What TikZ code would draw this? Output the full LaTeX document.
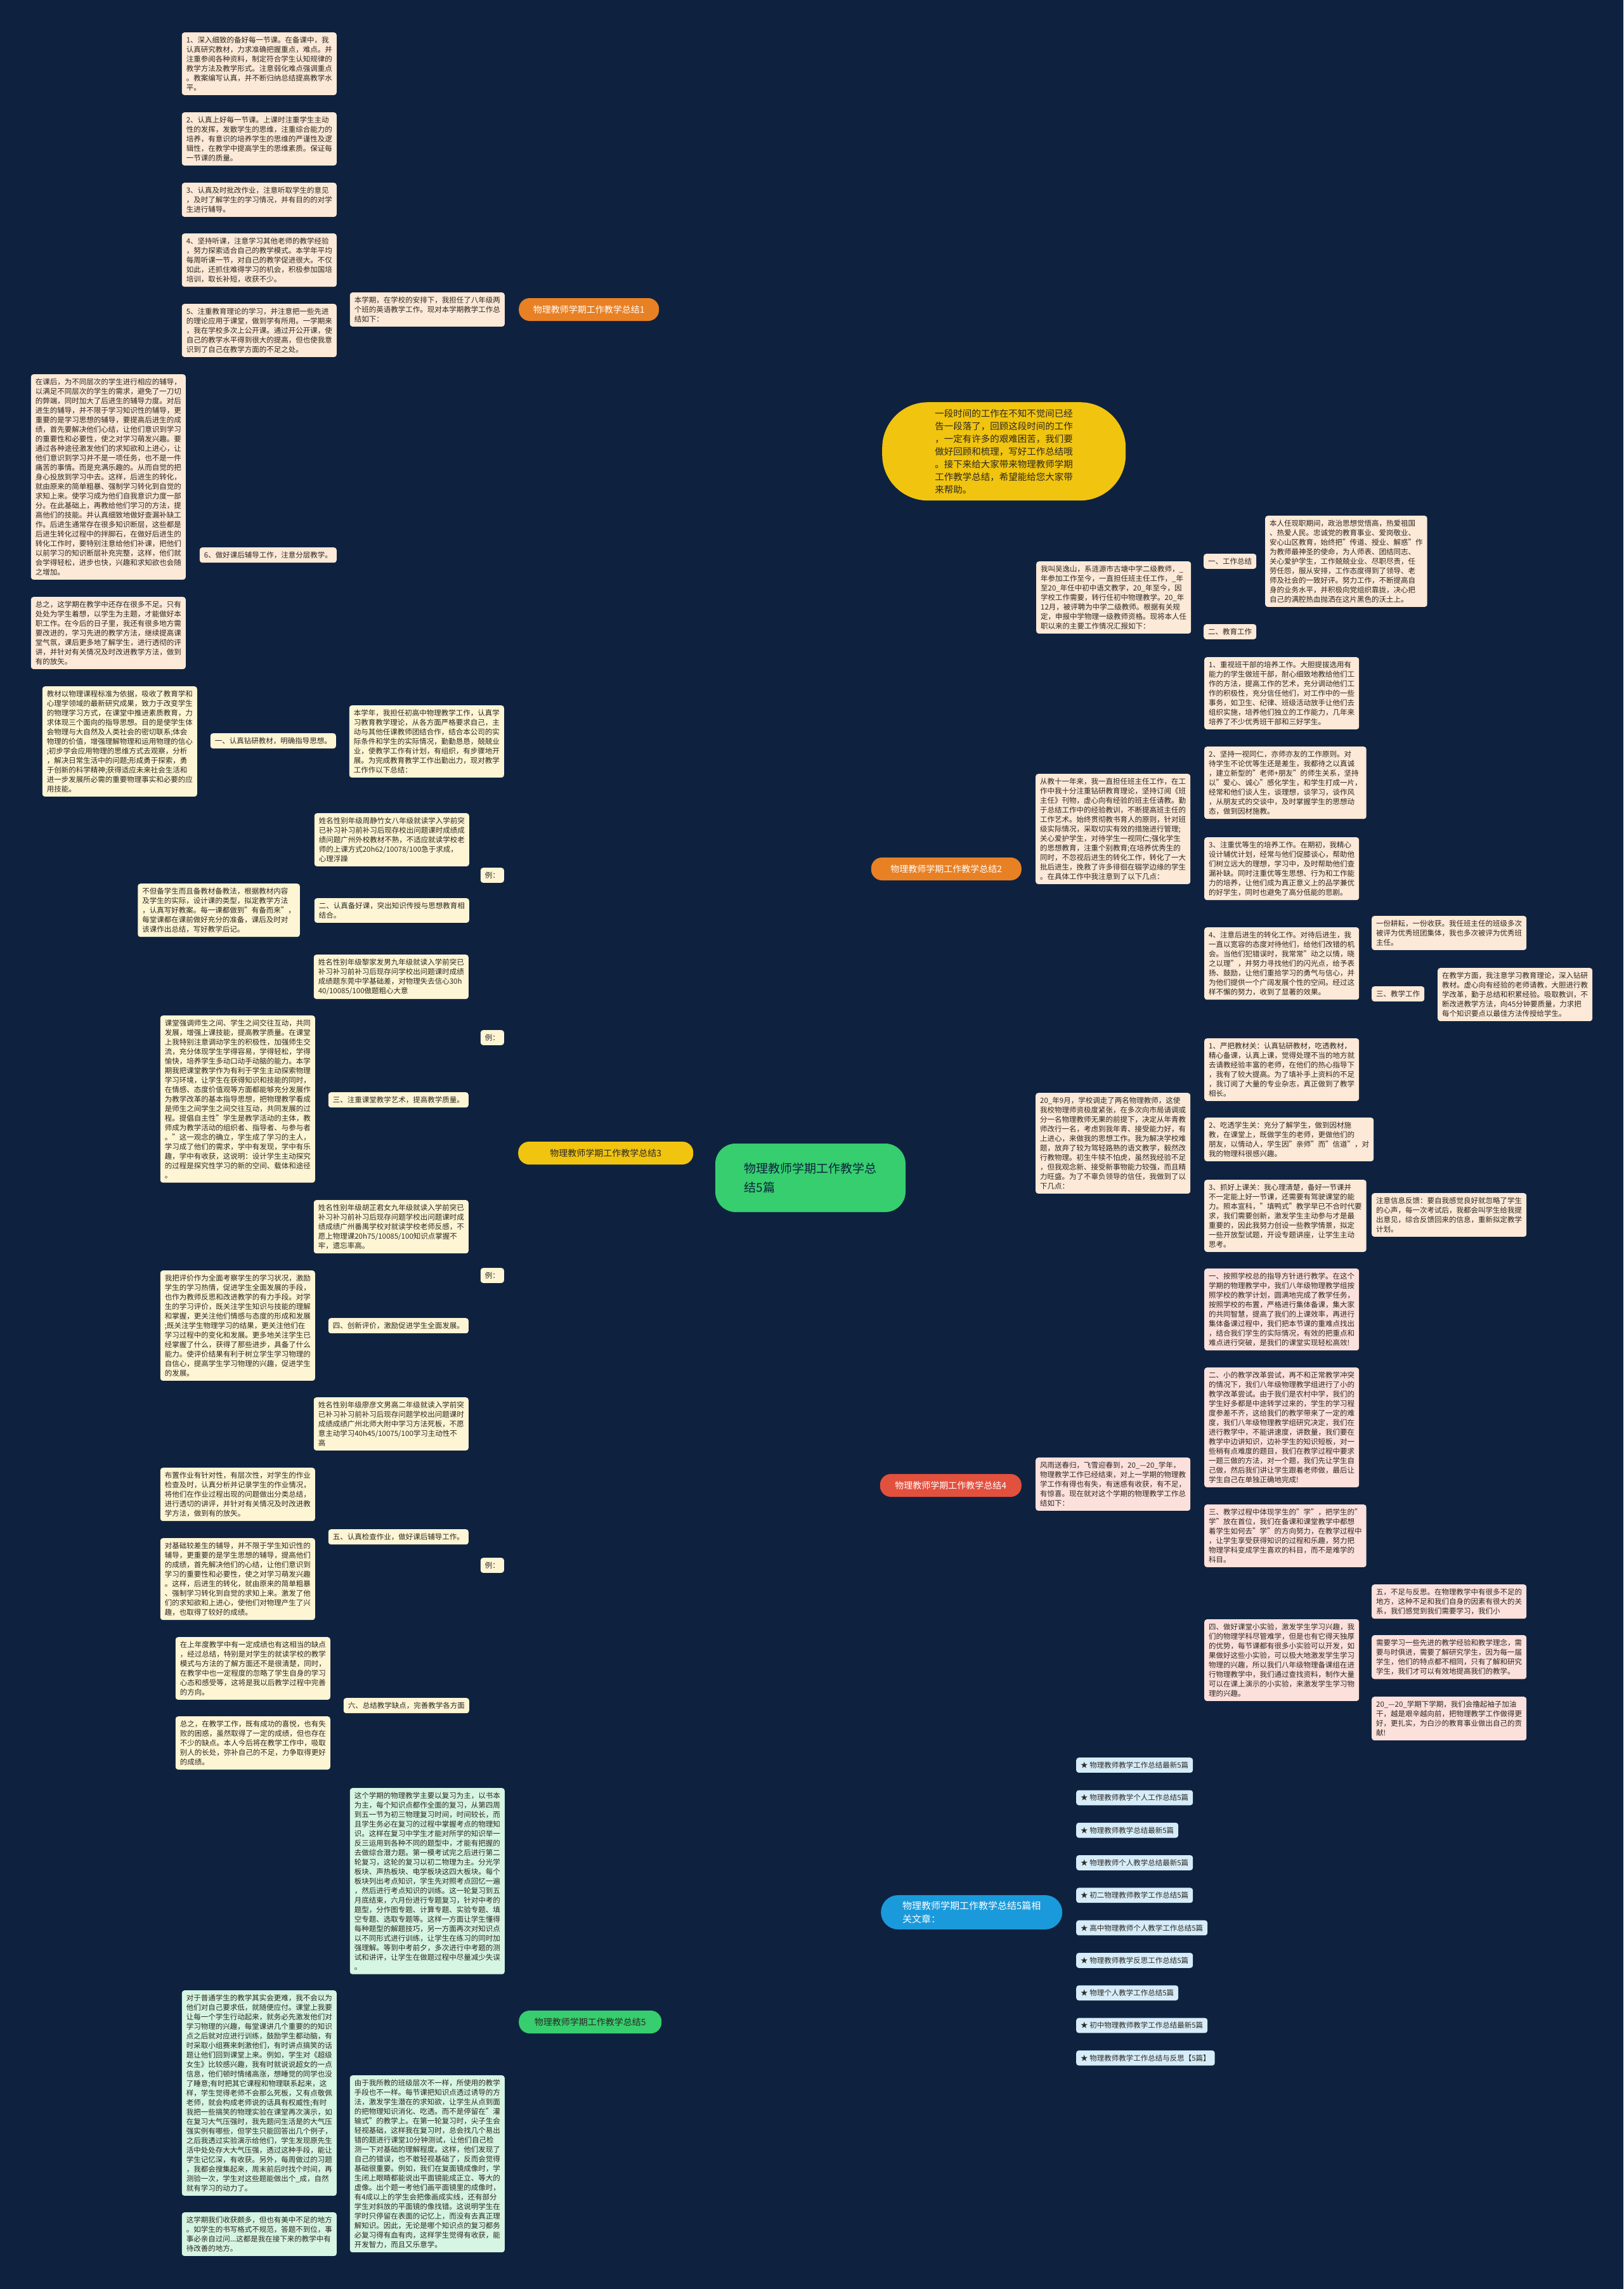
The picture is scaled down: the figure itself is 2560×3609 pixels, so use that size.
\documentclass[tikz,border=0pt]{standalone}
\usepackage{fontspec}
\setmainfont{Noto Sans CJK SC}
\usetikzlibrary{backgrounds}
\definecolor{navybg}{RGB}{14,34,64}
\definecolor{inkdark}{RGB}{45,40,35}
\definecolor{orangetopic}{RGB}{232,128,36}
\definecolor{yellowtopic}{RGB}{241,196,15}
\definecolor{redtopic}{RGB}{226,80,62}
\definecolor{greentopic}{RGB}{54,206,110}
\definecolor{bluetopic}{RGB}{26,154,219}
\definecolor{peachfill}{RGB}{252,233,215}
\definecolor{creamfill}{RGB}{253,245,212}
\definecolor{blushfill}{RGB}{252,224,220}
\definecolor{mintfill}{RGB}{214,245,226}
\definecolor{skyfill}{RGB}{214,237,249}
\definecolor{orangewire}{RGB}{222,136,58}
\definecolor{yellowwire}{RGB}{232,200,42}
\definecolor{redwire}{RGB}{214,86,72}
\definecolor{greenwire}{RGB}{70,204,128}
\definecolor{bluewire}{RGB}{36,150,214}
\newcommand{\cardfont}{\fontsize{11.5}{15}\selectfont}
\newcommand{\topicfont}{\fontsize{14}{18}\selectfont}
\newcommand{\hubfont}{\fontsize{19}{30}\selectfont}
\newcommand{\leadfont}{\fontsize{14.5}{20}\selectfont}
\newcommand{\morefont}{\fontsize{15}{21}\selectfont}

\begin{document}
\begin{tikzpicture}[x=1pt, y=-1pt,
    show background rectangle, tight background,
    background rectangle/.style={fill=navybg, draw=none},
    card/.style={rounded corners=4pt, align=left, inner xsep=7pt,
                 inner ysep=6.5pt, font=\cardfont, text=inkdark},
    card1/.style={card, fill=peachfill},
    card3/.style={card, fill=creamfill},
    card4/.style={card, fill=blushfill},
    card5/.style={card, fill=mintfill},
    cardlink/.style={card, fill=skyfill},
    topic/.style={rounded corners=17pt, minimum height=36pt, inner xsep=14pt,
                  font=\topicfont, align=center},
    hub/.style={fill=greentopic, rounded corners=32pt, minimum width=300pt,
                minimum height=108pt, align=left, font=\hubfont, text=navybg},
    leadnote/.style={fill=yellowtopic, rounded corners=72pt, minimum width=384pt,
                     minimum height=155pt, align=left, font=\leadfont, text=inkdark},
    morenote/.style={fill=bluetopic, rounded corners=27pt, minimum width=286pt,
                     minimum height=54pt, align=left, font=\morefont, text=white},
    wire/.style={line width=1.6pt, rounded corners=6pt},
    wire1/.style={wire, draw=orangewire},
    wire3/.style={wire, draw=yellowwire},
    wire4/.style={wire, draw=redwire},
    wire5/.style={wire, draw=greenwire},
    wire6/.style={wire, draw=bluewire},
    mainwire/.style={line width=2.6pt}]
  \useasboundingbox (0,0) rectangle (2560,3609);

  % centre and intro
  \node[hub] (root) at (1278,1857) {物理教师学期工作教学总\\结5篇};
  \node[leadnote, anchor=north west] (lead) at (1391,634)
    {一段时间的工作在不知不觉间已经\\告一段落了，回顾这段时间的工作\\，一定有许多的艰难困苦，我们要\\做好回顾和梳理，写好工作总结哦\\。接下来给大家带来物理教师学期\\工作教学总结，希望能给您大家带\\来帮助。};

  % branch topics
  \node[topic, fill=orangetopic, text=white, minimum width=221pt, anchor=west] (sum1) at (818,488) {物理教师学期工作教学总结1};
  \node[topic, fill=orangetopic, text=white, minimum width=237pt, anchor=east] (sum2) at (1611,1370) {物理教师学期工作教学总结2};
  \node[topic, fill=yellowtopic, text=inkdark, minimum width=276pt, anchor=west] (sum3) at (817,1818) {物理教师学期工作教学总结3};
  \node[topic, fill=redtopic, text=white, minimum width=223pt, anchor=east] (sum4) at (1611,2342) {物理教师学期工作教学总结4};
  \node[topic, fill=greentopic, text=inkdark, minimum width=225pt, anchor=west] (sum5) at (818,3188) {物理教师学期工作教学总结5};
  \node[morenote, anchor=west] (more) at (1389,3015) {物理教师学期工作教学总结5篇相\\关文章：};

  % ---- summary 1
  \node[card1, anchor=north east] (s1in) at (796,461) {本学期，在学校的安排下，我担任了八年级两\\个班的英语教学工作。现对本学期教学工作总\\结如下：};
  \node[card1, anchor=north east] (s1a) at (531,51) {1、深入细致的备好每一节课。在备课中，我\\认真研究教材，力求准确把握重点，难点。并\\注重参阅各种资料，制定符合学生认知规律的\\教学方法及教学形式。注意弱化难点强调重点\\。教案编写认真，并不断归纳总结提高教学水\\平。};
  \node[card1, anchor=north east] (s1b) at (531,177) {2、认真上好每一节课。上课时注重学生主动\\性的发挥，发散学生的思维，注重综合能力的\\培养，有意识的培养学生的思维的严谨性及逻\\辑性，在教学中提高学生的思维素质。保证每\\一节课的质量。};
  \node[card1, anchor=north east] (s1c) at (531,288) {3、认真及时批改作业，注意听取学生的意见\\，及时了解学生的学习情况，并有目的的对学\\生进行辅导。};
  \node[card1, anchor=north east] (s1d) at (531,368) {4、坚持听课，注意学习其他老师的教学经验\\，努力探索适合自己的教学模式。本学年平均\\每周听课一节，对自己的教学促进很大。不仅\\如此，还抓住难得学习的机会，积极参加国培\\培训，取长补短，收获不少。};
  \node[card1, anchor=north east] (s1e) at (531,479) {5、注重教育理论的学习，并注意把一些先进\\的理论应用于课堂，做到学有所用。一学期来\\，我在学校多次上公开课。通过开公开课，使\\自己的教学水平得到很大的提高，但也使我意\\识到了自己在教学方面的不足之处。};
  \node[card1, anchor=north east] (s1f) at (531,863) {6、做好课后辅导工作，注意分层教学。};
  \node[card1, anchor=north east] (s1g) at (293,590) {在课后，为不同层次的学生进行相应的辅导，\\以满足不同层次的学生的需求，避免了一刀切\\的弊端，同时加大了后进生的辅导力度。对后\\进生的辅导，并不限于学习知识性的辅导，更\\重要的是学习思想的辅导，要提高后进生的成\\绩，首先要解决他们心结，让他们意识到学习\\的重要性和必要性，使之对学习萌发兴趣。要\\通过各种途径激发他们的求知欲和上进心，让\\他们意识到学习并不是一项任务，也不是一件\\痛苦的事情。而是充满乐趣的。从而自觉的把\\身心投放到学习中去。这样，后进生的转化，\\就由原来的简单粗暴、强制学习转化到自觉的\\求知上来。使学习成为他们自我意识力度一部\\分。在此基础上，再教给他们学习的方法，提\\高他们的技能。并认真细致地做好查漏补缺工\\作。后进生通常存在很多知识断层，这些都是\\后进生转化过程中的拌脚石，在做好后进生的\\转化工作时，要特别注意给他们补课，把他们\\以前学习的知识断层补充完整，这样，他们就\\会学得轻松，进步也快，兴趣和求知欲也会随\\之增加。};
  \node[card1, anchor=north east] (s1h) at (293,941) {总之，这学期在教学中还存在很多不足。只有\\处处为学生着想，以学生为主题，才能做好本\\职工作。在今后的日子里，我还有很多地方需\\要改进的，学习先进的教学方法，继续提高课\\堂气氛，课后更多地了解学生，进行透彻的评\\讲，并针对有关情况及时改进教学方法，做到\\有的放矢。};

  % ---- summary 3
  \node[card3, anchor=north east] (s3in) at (795,1112) {本学年，我担任初高中物理教学工作，认真学\\习教育教学理论，从各方面严格要求自己，主\\动与其他任课教师团结合作，结合本公司的实\\际条件和学生的实际情况，勤勤恳恳，兢兢业\\业，使教学工作有计划，有组织，有步骤地开\\展。为完成教育教学工作出勤出力，现对教学\\工作作以下总结：};
  \node[card3, anchor=north east] (s3one) at (530,1156) {一、认真钻研教材，明确指导思想。};
  \node[card3, anchor=north east] (s3book) at (311,1082) {教材以物理课程标准为依据，吸收了教育学和\\心理学领域的最新研究成果，致力于改变学生\\的物理学习方式，在课堂中推进素质教育，力\\求体现三个面向的指导思想。目的是使学生体\\会物理与大自然及人类社会的密切联系;体会\\物理的价值，增强理解物理和运用物理的信心\\;初步学会应用物理的思维方式去观察，分析\\，解决日常生活中的问题;形成勇于探索，勇\\于创新的科学精神;获得适应未来社会生活和\\进一步发展所必需的重要物理事实和必要的应\\用技能。};
  \node[card3, anchor=north east] (ex1) at (795,1368) {例：};
  \node[card3, anchor=north east] (s3zhou) at (740,1282) {姓名性别年级周静竹女八年级就读学入学前突\\已补习补习前补习后现存校出问题课时成绩成\\绩问题广州外校教材不熟，不适应就读学校老\\师的上课方式20h62/10078/100急于求成，\\心理浮躁};
  \node[card3, anchor=north east] (s3two) at (740,1416) {二、认真备好课，突出知识传授与思想教育相\\结合。};
  \node[card3, anchor=north east] (s3twoc) at (473,1393) {不但备学生而且备教材备教法，根据教材内容\\及学生的实际，设计课的类型，拟定教学方法\\，认真写好教案。每一课都做到"有备而来"，\\每堂课都在课前做好充分的准备，课后及时对\\该课作出总结，写好教学后记。};
  \node[card3, anchor=north east] (ex2) at (795,1624) {例：};
  \node[card3, anchor=north east] (s3li) at (739,1505) {姓名性别年级黎家发男九年级就读入学前突已\\补习补习前补习后现存问学校出问题课时成绩\\成绩题东莞中学基础差，对物理失去信心30h\\40/10085/100做题粗心大意};
  \node[card3, anchor=north east] (s3three) at (739,1722) {三、注重课堂教学艺术，提高教学质量。};
  \node[card3, anchor=north east] (s3threec) at (497,1601) {课堂强调师生之间、学生之间交往互动，共同\\发展，增强上课技能，提高教学质量。在课堂\\上我特别注意调动学生的积极性，加强师生交\\流，充分体现学生学得容易，学得轻松，学得\\愉快，培养学生多动口动手动脑的能力。本学\\期我把课堂教学作为有利于学生主动探索物理\\学习环境，让学生在获得知识和技能的同时，\\在情感、态度价值观等方面都能够充分发展作\\为教学改革的基本指导思想，把物理教学看成\\是师生之间学生之间交往互动，共同发展的过\\程。提倡自主性"学生是教学活动的主体，教\\师成为教学活动的组织者、指导者、与参与者\\。"这一观念的确立，学生成了学习的主人，\\学习成了他们的需求，学中有发现，学中有乐\\趣，学中有收获，这说明：设计学生主动探究\\的过程是探究性学习的新的空间、载体和途径\\。};
  \node[card3, anchor=north east] (ex3) at (795,1999) {例：};
  \node[card3, anchor=north east] (s3hu) at (739,1892) {姓名性别年级胡芷君女九年级就读入学前突已\\补习补习前补习后现存问题学校出问题课时成\\绩成绩广州番禺学校对就读学校老师反感，不\\愿上物理课20h75/10085/100知识点掌握不\\牢，遗忘率高。};
  \node[card3, anchor=north east] (s3four) at (739,2078) {四、创新评价，激励促进学生全面发展。};
  \node[card3, anchor=north east] (s3fourc) at (497,2003) {我把评价作为全面考察学生的学习状况，激励\\学生的学习热情，促进学生全面发展的手段，\\也作为教师反思和改进教学的有力手段。对学\\生的学习评价，既关注学生知识与技能的理解\\和掌握，更关注他们情感与态度的形成和发展\\;既关注学生物理学习的结果，更关注他们在\\学习过程中的变化和发展。更多地关注学生已\\经掌握了什么，获得了那些进步，具备了什么\\能力。使评价结果有利于树立学生学习物理的\\自信心，提高学生学习物理的兴趣，促进学生\\的发展。};
  \node[card3, anchor=north east] (ex4) at (795,2456) {例：};
  \node[card3, anchor=north east] (s3liao) at (739,2203) {姓名性别年级廖彦文男高二年级就读入学前突\\已补习补习前补习后现存问题学校出问题课时\\成绩成绩广州北师大附中学习方法死板，不愿\\意主动学习40h45/10075/100学习主动性不\\高};
  \node[card3, anchor=north east] (s3five) at (739,2411) {五、认真检查作业，做好课后辅导工作。};
  \node[card3, anchor=north east] (s3fivea) at (497,2314) {布置作业有针对性，有层次性，对学生的作业\\检查及时，认真分析并记录学生的作业情况，\\将他们在作业过程出现的问题做出分类总结，\\进行透切的讲评，并针对有关情况及时改进教\\学方法，做到有的放矢。};
  \node[card3, anchor=north east] (s3fiveb) at (497,2425) {对基础较差生的辅导，并不限于学生知识性的\\辅导，更重要的是学生思想的辅导，提高他们\\的成绩，首先解决他们的心结，让他们意识到\\学习的重要性和必要性，使之对学习萌发兴趣\\。这样，后进生的转化，就由原来的简单粗暴\\、强制学习转化到自觉的求知上来。激发了他\\们的求知欲和上进心，使他们对物理产生了兴\\趣，也取得了较好的成绩。};
  \node[card3, anchor=north east] (s3six) at (740,2677) {六、总结教学缺点，完善教学各方面};
  \node[card3, anchor=north east] (s3sixa) at (521,2581) {在上年度教学中有一定成绩也有这相当的缺点\\，经过总结，特别是对学生的就读学校的教学\\模式与方法的了解方面还不是很清楚，同时，\\在教学中也一定程度的忽略了学生自身的学习\\心态和感受等，这将是我以后教学过程中完善\\的方向。};
  \node[card3, anchor=north east] (s3sixb) at (521,2706) {总之，在教学工作，既有成功的喜悦，也有失\\败的困惑，虽然取得了一定的成绩，但也存在\\不少的缺点。本人今后将在教学工作中，吸取\\别人的长处，弥补自己的不足，力争取得更好\\的成绩。};

  % ---- summary 5
  \node[card5, anchor=north east] (s5a) at (796,2819) {这个学期的物理教学主要以复习为主，以书本\\为主，每个知识点都作全面的复习，从第四周\\到五一节为初三物理复习时间，时间较长，而\\且学生务必在复习的过程中掌握考点的物理知\\识。这样在复习中学生才能对所学的知识举一\\反三运用到各种不同的题型中，才能有把握的\\去做综合潜力题。第一模考试完之后进行第二\\轮复习，这轮的复习以初二物理为主。分光学\\板块、声热板块、电学板块这四大板块。每个\\板块列出考点知识，学生先对照考点回忆一遍\\，然后进行考点知识的训练。这一轮复习到五\\月底结束，六月份进行专题复习，针对中考的\\题型，分作图专题、计算专题、实验专题、填\\空专题、选取专题等。这样一方面让学生懂得\\每种题型的解题技巧，另一方面再次对知识点\\以不同形式进行训练，让学生在练习的同时加\\强理解。等到中考前夕，多次进行中考题的测\\试和讲评，让学生在做题过程中尽量减少失误\\。};
  \node[card5, anchor=north east] (s5b) at (796,3272) {由于我所教的班级层次不一样，所使用的教学\\手段也不一样。每节课把知识点透过诱导的方\\法，激发学生潜在的求知欲，让学生从点到面\\的把物理知识消化、吃透。而不是停留在"灌\\输式"的教学上。在第一轮复习时，尖子生会\\轻视基础，这样我在复习时，总会找几个易出\\错的题进行课堂10分钟测试，让他们自己检\\测一下对基础的理解程度。这样，他们发现了\\自己的错误，也不敢轻视基础了，反而会觉得\\基础很重要。例如，我们在复面镜成像时，学\\生闭上眼睛都能说出平面镜能成正立、等大的\\虚像。出个题一考他们画平面镜里的成像时，\\有4成以上的学生会把像画成实线，还有部分\\学生对斜放的平面镜的像找错。这说明学生在\\学时只停留在表面的记忆上，而没有去真正理\\解知识。因此，无论是哪个知识点的复习都务\\必复习得有血有肉，这样学生觉得有收获，能\\开发智力，而且又乐意学。};
  \node[card5, anchor=north east] (s5ba) at (531,3138) {对于普通学生的教学其实会更难，我不会以为\\他们对自己要求低，就随便应付。课堂上我要\\让每一个学生行动起来，就务必先激发他们对\\学习物理的兴趣，每堂课讲几个重要的的知识\\点之后就对应进行训练，鼓励学生都动脑，有\\时采取小组赛来刺激他们，有时讲点搞笑的话\\题让他们回到课堂上来。例如，学生对《超级\\女生》比较感兴趣，我有时就说说超女的一点\\信息，他们顿时情绪高涨，想睡觉的同学也没\\了睡意;有时把其它课程和物理联系起来，这\\样，学生觉得老师不会那么死板，又有点敬佩\\老师，就会构成老师说的话具有权威性;有时\\我把一些搞笑的物理实验在课堂再次演示，如\\在复习大气压强时，我先题问生活是的大气压\\强实例有哪些，但学生只能回答出几个例子，\\之后我透过实验演示给他们，学生发现原先生\\活中处处存大大气压强，透过这种手段，能让\\学生记忆深，有收获。另外，每周做过的习题\\，我都会搜集起来，周末前后时找个时间，再\\测验一次，学生对这些题能做出个\_成，自然\\就有学习的动力了。};
  \node[card5, anchor=north east] (s5bb) at (531,3488) {这学期我们收获颇多，但也有美中不足的地方\\。如学生的书写格式不规范，答题不到位，事\\事必亲自过问...这都是我在接下来的教学中有\\待改善的地方。};

  % ---- summary 2
  \node[card1, anchor=north west] (s2in) at (1634,885) {我叫吴逸山，系涟源市古塘中学二级教师，\_\\年参加工作至今，一直担任班主任工作，\_年\\至20\_年任中初中语文教学，20\_年至今，因\\学校工作需要，转行任初中物理教学。20\_年\\12月，被评聘为中学二级教师。根据有关规\\定，申报中学物理一级教师资格。现将本人任\\职以来的主要工作情况汇报如下：};
  \node[card1, anchor=north west] (s2w1) at (1898,873) {一、工作总结};
  \node[card1, anchor=north west] (s2w1c) at (1995,813) {本人任现职期间，政治思想觉悟高，热爱祖国\\、热爱人民。忠诚党的教育事业、爱岗敬业、\\安心山区教育，始终把"传道、授业、解惑"作\\为教师最神圣的使命，为人师表、团结同志、\\关心爱护学生，工作兢兢业业、尽职尽责，任\\劳任怨，服从安排，工作态度得到了领导、老\\师及社会的一致好评。努力工作，不断提高自\\身的业务水平，并积极向党组织靠拢，决心把\\自己的满腔热血抛洒在这片黑色的沃土上。};
  \node[card1, anchor=north west] (s2w2) at (1898,984) {二、教育工作};
  \node[card1, anchor=north west] (s2cong) at (1633,1220) {从教十一年来，我一直担任班主任工作，在工\\作中我十分注重钻研教育理论，坚持订阅《班\\主任》刊物，虚心向有经验的班主任请教。勤\\于总结工作中的经验教训，不断提高班主任的\\工作艺术。始终贯彻教书育人的原则，针对班\\级实际情况，采取切实有效的措施进行管理;\\关心爱护学生，对待学生一视同仁;强化学生\\的思想教育，注重个别教育;在培养优秀生的\\同时，不忽视后进生的转化工作，转化了一大\\批后进生，挽救了许多徘徊在辍学边缘的学生\\。在具体工作中我注意到了以下几点：};
  \node[card1, anchor=north west] (s2c1) at (1899,1036) {1、重视班干部的培养工作。大胆提拔选用有\\能力的学生做班干部，耐心细致地教给他们工\\作的方法，提高工作的艺术，充分调动他们工\\作的积极性，充分信任他们，对工作中的一些\\事务，如卫生、纪律、班级活动放手让他们去\\组织实施，培养他们独立的工作能力，几年来\\培养了不少优秀班干部和三好学生。};
  \node[card1, anchor=north west] (s2c2) at (1899,1177) {2、坚持一视同仁，亦师亦友的工作原则。对\\待学生不论优等生还是差生，我都待之以真诚\\，建立新型的"老师+朋友"的师生关系，坚持\\以"爱心、诚心"感化学生，和学生打成一片，\\经常和他们谈人生，谈理想，谈学习，谈作风\\，从朋友式的交谈中，及时掌握学生的思想动\\态，做到因材施教。};
  \node[card1, anchor=north west] (s2c3) at (1899,1320) {3、注重优等生的培养工作。在期初，我精心\\设计辅优计划，经常与他们促膝谈心，帮助他\\们树立远大的理想，学习中，及时帮助他们查\\漏补缺。同时注重优等生思想、行为和工作能\\力的培养，让他们成为真正意义上的品学兼优\\的好学生，同时也避免了高分低能的悲剧。};
  \node[card1, anchor=north west] (s2c4) at (1899,1462) {4、注意后进生的转化工作。对待后进生，我\\一直以宽容的态度对待他们，给他们改错的机\\会。当他们犯错误时，我常常"动之以情，晓\\之以理"，并努力寻找他们的闪光点，给予表\\扬、鼓励，让他们重拾学习的勇气与信心，并\\为他们提供一个广阔发展个性的空间。经过这\\样不懈的努力，收到了显著的效果。};
  \node[card1, anchor=north west] (s2c4a) at (2163,1444) {一份耕耘，一份收获。我任班主任的班级多次\\被评为优秀班团集体，我也多次被评为优秀班\\主任。};
  \node[card1, anchor=north west] (s2c4b) at (2163,1555) {三、教学工作};
  \node[card1, anchor=north west] (s2c4bc) at (2267,1526) {在教学方面，我注意学习教育理论，深入钻研\\教材。虚心向有经验的老师请教，大胆进行教\\学改革，勤于总结和积累经验。吸取教训，不\\断改进教学方法，向45分钟要质量，力求把\\每个知识要点以最佳方法传授给学生。};
  \node[card1, anchor=north west] (s2nine) at (1633,1723) {20\_年9月，学校调走了两名物理教师，这使\\我校物理师资极度紧张，在多次向市局请调或\\分一名物理教师无果的前提下，决定从年青教\\师改行一名，考虑到我年青、接受能力好，有\\上进心，来做我的思想工作。我为解决学校难\\题，放弃了较为驾轻路熟的语文教学，毅然改\\行教物理。初生牛犊不怕虎，虽然我经验不足\\，但我观念新、接受新事物能力较强，而且精\\力旺盛。为了不辜负领导的信任，我做到了以\\下几点：};
  \node[card1, anchor=north west] (s2n1) at (1899,1637) {1、严把教材关：认真钻研教材，吃透教材，\\精心备课，认真上课，觉得处理不当的地方就\\去请教经验丰富的老师，在他们的热心指导下\\，我有了较大提高。为了填补手上资料的不足\\，我订阅了大量的专业杂志，真正做到了教学\\相长。};
  \node[card1, anchor=north west] (s2n2) at (1899,1762) {2、吃透学生关：充分了解学生，做到因材施\\教，在课堂上，既做学生的老师，更做他们的\\朋友，以情动人，学生因"亲师"而"信道"，对\\我的物理科很感兴趣。};
  \node[card1, anchor=north west] (s2n3) at (1899,1860) {3、抓好上课关：我心理清楚，备好一节课并\\不一定能上好一节课，还需要有驾驶课堂的能\\力。照本宣科，"填鸭式"教学早已不合时代要\\求，我们需要创新，激发学生主动参与才是最\\重要的，因此我努力创设一些教学情景，拟定\\一些开放型试题，开设专题讲座，让学生主动\\思考。};
  \node[card1, anchor=north west] (s2n3a) at (2163,1881) {注意信息反馈：要自我感觉良好就忽略了学生\\的心声，每一次考试后，我都会叫学生给我提\\出意见，综合反馈回来的信息，重新拟定教学\\计划。};

  % ---- summary 4
  \node[card4, anchor=north west] (s4in) at (1633,2298) {风雨送春归，飞雪迎春到，20\_—20\_学年，\\物理教学工作已经结束，对上一学期的物理教\\学工作有得也有失，有迷惑有收获，有不足，\\有惊喜。现在就对这个学期的物理教学工作总\\结如下：};
  \node[card4, anchor=north west] (s4a) at (1899,2000) {一、按照学校总的指导方针进行教学。在这个\\学期的物理教学中，我们八年级物理教学组按\\照学校的教学计划，圆满地完成了教学任务，\\按照学校的布置，严格进行集体备课，集大家\\的共同智慧，提高了我们的上课效率，再进行\\集体备课过程中，我们把本节课的重难点找出\\，结合我们学生的实际情况，有效的把重点和\\难点进行突破，是我们的课堂实现轻松高效!};
  \node[card4, anchor=north west] (s4b) at (1899,2156) {二、小的教学改革尝试，再不和正常教学冲突\\的情况下，我们八年级物理教学组进行了小的\\教学改革尝试。由于我们是农村中学，我们的\\学生好多都是中途转学过来的，学生的学习程\\度参差不齐，这给我们的教学带来了一定的难\\度，我们八年级物理教学组研究决定，我们在\\进行教学中，不能讲速度，讲数量，我们要在\\教学中边讲知识，边补学生的知识短板，对一\\些稍有点难度的题目，我们在教学过程中要求\\一题三做的方法，对一个题，我们先让学生自\\己做，然后我们讲让学生跟着老师做，最后让\\学生自己在单独正确地完成!};
  \node[card4, anchor=north west] (s4c) at (1899,2372) {三、教学过程中体现学生的"学"，把学生的"\\学"放在首位，我们在备课和课堂教学中都想\\着学生如何去"学"的方向努力，在教学过程中\\，让学生享受获得知识的过程和乐趣，努力把\\物理学科变成学生喜欢的科目，而不是难学的\\科目。};
  \node[card4, anchor=north west] (s4d) at (1899,2553) {四、做好课堂小实验，激发学生学习兴趣，我\\们的物理学科尽管难学，但是也有它得天独厚\\的优势，每节课都有很多小实验可以开发，如\\果做好这些小实验，可以极大地激发学生学习\\物理的兴趣，所以我们八年级物理备课组在进\\行物理教学中，我们通过查找资料，制作大量\\可以在课上演示的小实验，来激发学生学习物\\理的兴趣。};
  \node[card4, anchor=north west] (s4da) at (2163,2498) {五，不足与反思。在物理教学中有很多不足的\\地方，这种不足和我们自身的因素有很大的关\\系，我们感觉到我们需要学习，我们小};
  \node[card4, anchor=north west] (s4db) at (2163,2578) {需要学习一些先进的教学经验和教学理念，需\\要与时俱进，需要了解研究学生，因为每一届\\学生，他们的特点都不相同，只有了解和研究\\学生，我们才可以有效地提高我们的教学。};
  \node[card4, anchor=north west] (s4dc) at (2163,2675) {20\_—20\_学期下学期，我们会撸起袖子加油\\干，越是艰辛越向前，把物理教学工作做得更\\好，更扎实，为白沙的教育事业做出自己的贡\\献!};

  % ---- related articles
  \foreach \t [count=\i] in {物理教师教学工作总结最新5篇, 物理教师教学个人工作总结5篇,
      物理教师教学总结最新5篇, 物理教师个人教学总结最新5篇, 初二物理教师教学工作总结5篇,
      高中物理教师个人教学工作总结5篇, 物理教师教学反思工作总结5篇, 物理个人教学工作总结5篇,
      初中物理教师教学工作总结最新5篇, 物理教师教学工作总结与反思【5篇】}
    \node[cardlink, anchor=north west] (lk\i) at (1697,{2771+51.3*(\i-1)}) {★ \t};

  % connectors
  \begin{scope}[on background layer]
    \draw[mainwire, orangewire] ([xshift=-65pt]root.center) .. controls (1213,650) and (1120,488) .. (sum1.east);
    \draw[mainwire, yellowwire] ([xshift=-65pt]root.center) .. controls (1160,1857) and (1120,1818) .. (sum3.east);
    \draw[mainwire, greenwire] ([xshift=-65pt]root.center) .. controls (1213,3020) and (1120,3188) .. (sum5.east);
    \draw[mainwire, yellowwire] ([xshift=12pt]root.center) .. controls (1290,900) and (1320,711) .. (lead.west);
    \draw[mainwire, orangewire] ([xshift=12pt]root.center) .. controls (1290,1500) and (1320,1370) .. (sum2.west);
    \draw[mainwire, redwire] ([xshift=12pt]root.center) .. controls (1290,2200) and (1320,2342) .. (sum4.west);
    \draw[mainwire, bluewire] ([xshift=12pt]root.center) .. controls (1290,2850) and (1320,3015) .. (more.west);

    \draw[wire1] (sum1.west) -- (s1in.east);
    \foreach \k in {s1a,s1b,s1c,s1d,s1e,s1f}
      \draw[wire1] (s1in.west) -- ++(-13,0) |- (\k.east);
    \foreach \k in {s1g,s1h}
      \draw[wire1] (s1f.west) -- ++(-11,0) |- (\k.east);

    \foreach \k in {s3in,ex1,ex2,ex3,ex4}
      \draw[wire3] (sum3.west) -- ++(-14,0) |- (\k.east);
    \draw[wire3] (s3in.west) -- (s3one.east);
    \draw[wire3] (s3one.west) -- (s3book.east);
    \foreach \k in {s3zhou,s3two}
      \draw[wire3] (ex1.west) -- ++(-10,0) |- (\k.east);
    \draw[wire3] (s3two.west) -- (s3twoc.east);
    \foreach \k in {s3li,s3three}
      \draw[wire3] (ex2.west) -- ++(-10,0) |- (\k.east);
    \draw[wire3] (s3three.west) -- (s3threec.east);
    \foreach \k in {s3hu,s3four}
      \draw[wire3] (ex3.west) -- ++(-10,0) |- (\k.east);
    \draw[wire3] (s3four.west) -- (s3fourc.east);
    \foreach \k in {s3liao,s3five,s3six}
      \draw[wire3] (ex4.west) -- ++(-10,0) |- (\k.east);
    \foreach \k in {s3fivea,s3fiveb}
      \draw[wire3] (s3five.west) -- ++(-11,0) |- (\k.east);
    \foreach \k in {s3sixa,s3sixb}
      \draw[wire3] (s3six.west) -- ++(-11,0) |- (\k.east);

    \foreach \k in {s5a,s5b}
      \draw[wire5] (sum5.west) -- ++(-11,0) |- (\k.east);
    \foreach \k in {s5ba,s5bb}
      \draw[wire5] (s5b.west) -- ++(-12,0) |- (\k.east);

    \foreach \k in {s2in,s2cong,s2nine}
      \draw[wire1] (sum2.east) -- ++(15,0) |- (\k.west);
    \foreach \k in {s2w1,s2w2}
      \draw[wire1] (s2in.east) -- ++(12,0) |- (\k.west);
    \draw[wire1] (s2w1.east) -- (s2w1c.west);
    \foreach \k in {s2c1,s2c2,s2c3,s2c4}
      \draw[wire1] (s2cong.east) -- ++(10,0) |- (\k.west);
    \foreach \k in {s2c4a,s2c4b}
      \draw[wire1] (s2c4.east) -- ++(11,0) |- (\k.west);
    \draw[wire1] (s2c4b.east) -- (s2c4bc.west);
    \foreach \k in {s2n1,s2n2,s2n3}
      \draw[wire1] (s2nine.east) -- ++(10,0) |- (\k.west);
    \draw[wire1] (s2n3.east) -- (s2n3a.west);

    \draw[wire4] (sum4.east) -- (s4in.west);
    \foreach \k in {s4a,s4b,s4c,s4d}
      \draw[wire4] (s4in.east) -- ++(10,0) |- (\k.west);
    \foreach \k in {s4da,s4db,s4dc}
      \draw[wire4] (s4d.east) -- ++(11,0) |- (\k.west);

    \foreach \i in {1,...,10}
      \draw[wire6] (more.east) -- ++(11,0) |- (lk\i.west);
  \end{scope}
\end{tikzpicture}
\end{document}
